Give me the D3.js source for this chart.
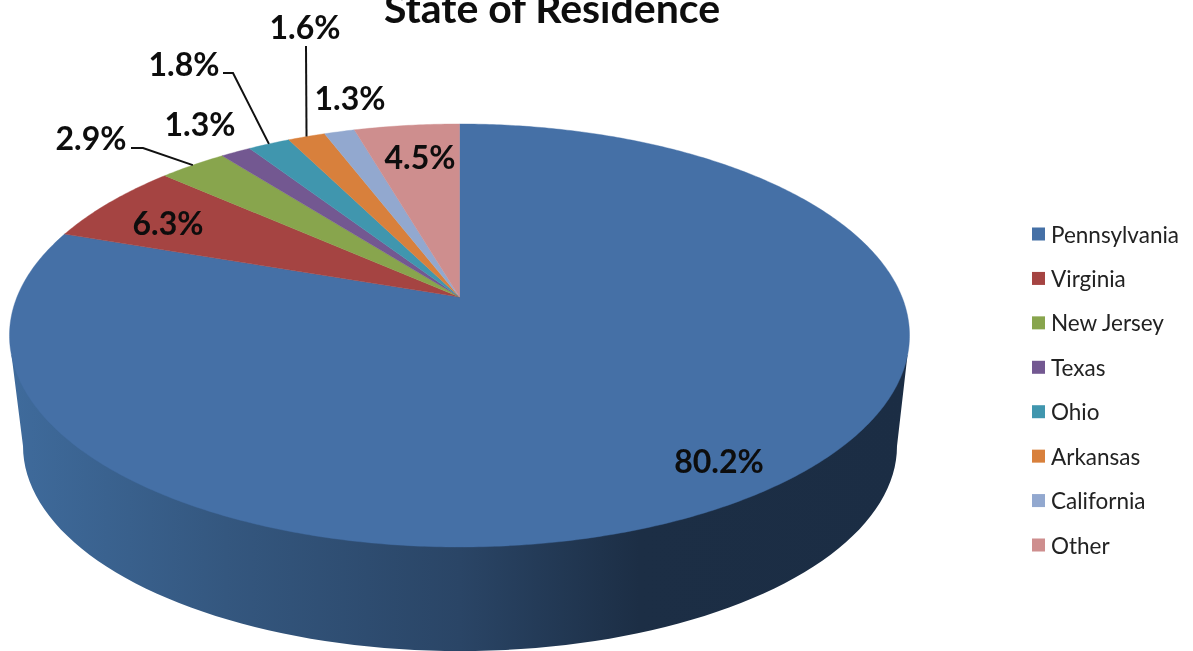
<!DOCTYPE html>
<html>
<head>
<meta charset="utf-8">
<script src="https://cdnjs.cloudflare.com/ajax/libs/d3/7.8.5/d3.min.js"></script>
<style>
html, body { margin: 0; padding: 0; background: #fff; overflow: hidden; }
text { font-family: Lato, "Open Sans", sans-serif; }
</style>
</head>
<body>
<div id="chart"></div>
<script>
var states = ["Pennsylvania", "Virginia", "New Jersey", "Texas", "Ohio", "Arkansas", "California", "Other"];
var shares = [80.2, 6.3, 2.9, 1.3, 1.8, 1.6, 1.3, 4.5];
var colors = ["#4570a6", "#a54442", "#88a54d", "#735891", "#4096ae", "#d8803c", "#92a8cf", "#ce8e8e"];

// hand placed label spots, same order as states
var labelSpots = [[719, 461], [168, 223], [91, 138], [200, 124], [184, 64], [305, 27], [350, 98], [420, 157]];
// leader lines: state index + the fixed points before the rim
var leaders = [
	{ i: 2, pts: [[131, 148], [143, 148]] },
	{ i: 4, pts: [[223, 73], [233, 73]] },
	{ i: 5, pts: [[306, 46]] }
];

var width = 1193, height = 651;
var apex = [459.5, 297];

// tilted disc: circle seen in perspective
var k = 0.182, scaleU = 442.5, scaleV = 204.5;
function project(angle) {
	var u = Math.sin(angle), v = Math.cos(angle), w = 1 + k * v;
	return [apex[0] + scaleU * u / w, apex[1] - scaleV * v / w];
}

var svg = d3.select("#chart").append("svg")
	.attr("width", width)
	.attr("height", height);

var defs = svg.append("defs");
var grad = defs.append("linearGradient")
	.attr("id", "sideGrad")
	.attr("gradientUnits", "userSpaceOnUse")
	.attr("x1", 10).attr("x2", 909).attr("y1", 0).attr("y2", 0);
[[0, "#3f6b9c"], [0.24, "#34577f"], [0.5, "#2a4566"], [0.7, "#1c2e45"], [1, "#1b2d44"]].forEach(function(s) {
	grad.append("stop").attr("offset", s[0]).attr("stop-color", s[1]);
});

// the source image is a bit soft, text follows
defs.append("filter").attr("id", "soft")
	.attr("x", "-5%").attr("y", "-5%").attr("width", "110%").attr("height", "110%")
	.append("feGaussianBlur").attr("stdDeviation", 0.45);

var line = d3.line();

// side wall, ellipse of the lower face joined to the top rim
var lower = { cx: 460, cy: 446, rx: 437, ry: 205 };
var sidePts = [[11.5, 355]].concat(d3.range(0, 180.5, 2).map(function(deg) {
	var a = deg * Math.PI / 180;
	return [lower.cx - lower.rx * Math.cos(a), lower.cy + lower.ry * Math.sin(a)];
}), [[907.5, 355]]);

svg.append("path")
	.attr("d", line(sidePts) + "Z")
	.attr("fill", "url(#sideGrad)");

var pie = d3.pie().sort(null).value(function(d) { return d; });
var arcs = pie(shares);

function wedge(d) {
	var steps = Math.max(2, Math.ceil((d.endAngle - d.startAngle) / 0.01));
	var rim = d3.range(steps + 1).map(function(j) {
		return project(d.startAngle + (d.endAngle - d.startAngle) * j / steps);
	});
	return line([apex].concat(rim)) + "Z";
}

svg.append("g").selectAll("path")
	.data(arcs)
	.enter().append("path")
	.attr("d", wedge)
	.attr("fill", function(d, i) { return colors[i]; })
	.attr("stroke", function(d, i) { return colors[i]; })
	.attr("stroke-width", 0.4);

svg.append("g").selectAll("path")
	.data(leaders)
	.enter().append("path")
	.attr("d", function(d) {
		var mid = (arcs[d.i].startAngle + arcs[d.i].endAngle) / 2;
		return line(d.pts.concat([project(mid)]));
	})
	.attr("fill", "none")
	.attr("stroke", "#111")
	.attr("stroke-width", 2);

svg.append("g").selectAll("text")
	.data(shares)
	.enter().append("text")
	.attr("x", function(d, i) { return labelSpots[i][0]; })
	.attr("y", function(d, i) { return labelSpots[i][1]; })
	.attr("dy", "0.36em")
	.attr("text-anchor", "middle")
	.attr("font-size", 32)
	.attr("font-weight", 700)
	.attr("fill", "#0a0a0a")
	.attr("filter", "url(#soft)")
	.text(function(d) { return d3.format(".1f")(d) + "%"; });

svg.append("text")
	.attr("x", 552)
	.attr("y", 22.5)
	.attr("text-anchor", "middle")
	.attr("font-size", 41)
	.attr("font-weight", 700)
	.attr("fill", "#0a0a0a")
	.attr("filter", "url(#soft)")
	.text("State of Residence");

// legend
var legendY = d3.scalePoint().domain(states).range([234, 545]);
var legend = svg.append("g").selectAll("g")
	.data(states)
	.enter().append("g")
	.attr("transform", function(d) { return "translate(1032," + legendY(d) + ")"; });

legend.append("rect")
	.attr("x", 0).attr("y", -6.5)
	.attr("width", 13).attr("height", 13)
	.attr("fill", function(d, i) { return colors[i]; });

legend.append("text")
	.attr("x", 19)
	.attr("dy", "0.38em")
	.attr("font-size", 22.5)
	.attr("fill", "#222")
	.attr("filter", "url(#soft)")
	.text(function(d) { return d; });
</script>
</body>
</html>
